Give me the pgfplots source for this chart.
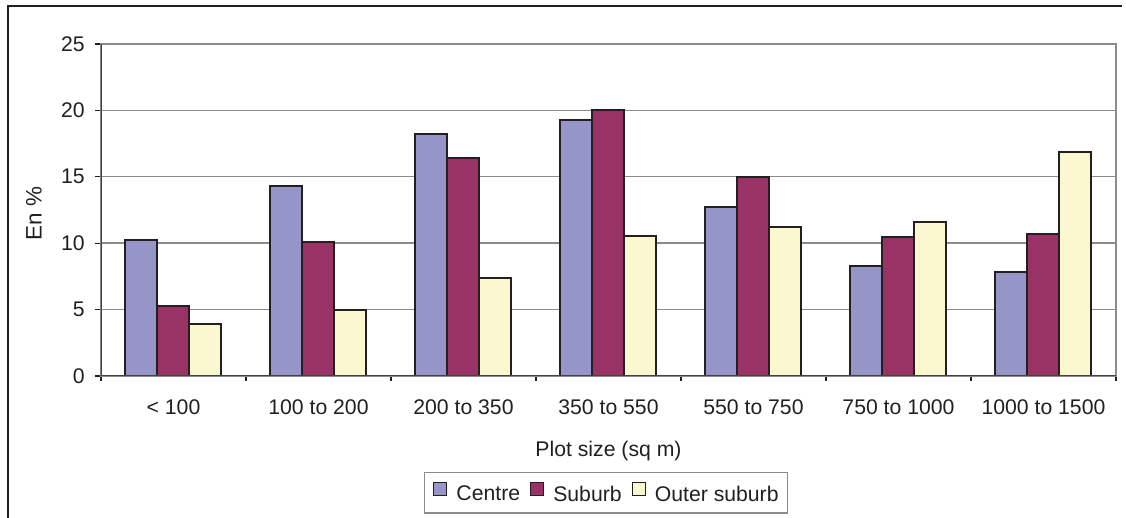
\documentclass[border=0pt]{standalone}
\usepackage{pgfplots}
\pgfplotsset{compat=1.18}
\usepackage{fontspec}
\setmainfont{Liberation Sans}

\definecolor{centre}{HTML}{9595C8}
\definecolor{suburb}{HTML}{993366}
\definecolor{outer}{HTML}{FBF8CF}
\definecolor{edge}{HTML}{231F20}
\definecolor{gridc}{HTML}{8C8C8C}
\definecolor{txt}{HTML}{231F20}

% Share of plots by size class (%)
\pgfplotstableread{
x centre suburb outer
0 10.25  5.25  3.9
1 14.3  10.1   4.95
2 18.25 16.45  7.4
3 19.3  20.0  10.55
4 12.7  15.0  11.2
5  8.3  10.45 11.6
6  7.85 10.7  16.9
}\plotdata

\begin{document}
\begin{tikzpicture}[font=\fontsize{10.6}{12.7}\selectfont, text=txt]
\begin{axis}[
  scale only axis, width=507.5pt, height=166pt,
  ybar=0pt, bar width=16pt,
  xmin=-0.5, xmax=6.5, ymin=0, ymax=25,
  xtick={0,...,6},
  xticklabels={< 100, 100 to 200, 200 to 350, 350 to 550, 550 to 750, 750 to 1000, 1000 to 1500},
  minor xtick={-0.5,0.5,...,6.5},
  ytick={0,5,...,25},
  tick align=outside, tick pos=left,
  major tick length=3pt, minor tick length=2.5pt,
  major x tick style={draw=none},
  minor x tick style={edge, line width=0.6pt},
  ytick style={edge, line width=0.6pt},
  ymajorgrids, grid style={gridc, line width=0.7pt},
  axis line style={gridc, line width=0.7pt},
  /pgf/number format/assume math mode=true,
  tick label style={font=\fontsize{10.6}{12.7}\selectfont, text=txt},
  yticklabel style={anchor=east, inner sep=0pt, xshift=-5pt},
  xticklabel style={anchor=base, inner sep=0pt, yshift=-16.5pt},
  ylabel={En \%},
  xlabel={Plot size (sq m)},
  every axis y label/.style={at={(axis description cs:-0.066,0.49)}, rotate=90, anchor=center,
    font=\fontsize{11.2}{13}\selectfont},
  every axis x label/.style={at={(axis description cs:0.5,-0.225)}, anchor=center},
  legend style={at={(axis description cs:0.4975,-0.352)}, anchor=center,
    draw=gridc, line width=0.7pt, legend columns=-1,
    font=\fontsize{10.6}{12.7}\selectfont, inner xsep=4.5pt, inner ysep=4.5pt,
    nodes={inner sep=0pt},
    /tikz/every odd column/.append style={column sep=4.5pt},
    /tikz/every even column/.append style={column sep=5pt}},
  legend image code/.code={\draw[#1, line width=0.6pt] (0pt,-0.2pt) rectangle (6.5pt,6.3pt);},
  every axis plot/.append style={draw=edge, line width=1pt},
]
\addplot[fill=centre] table[x=x, y=centre] {\plotdata};
\addplot[fill=suburb] table[x=x, y=suburb] {\plotdata};
\addplot[fill=outer]  table[x=x, y=outer]  {\plotdata};
\legend{Centre, Suburb, Outer suburb}
\draw[edge!85, line width=0.8pt] (rel axis cs:0,1) -- (rel axis cs:0,0) -- (rel axis cs:1,0);
\end{axis}
% chart frame
\draw[edge, line width=0.9pt] (-46.5pt,-80pt) -- (-46.5pt,185pt) -- (510.5pt,185pt);
\pgfresetboundingbox
\path[use as bounding box] (-50.5pt,-71pt) rectangle (512.5pt,188pt);
\end{tikzpicture}
\end{document}
